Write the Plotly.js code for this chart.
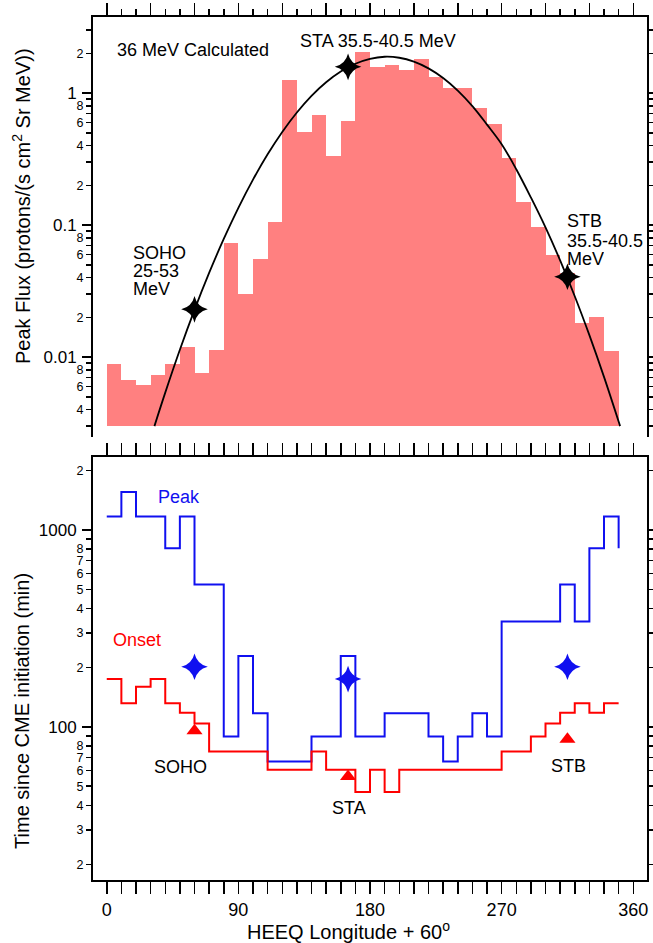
<!DOCTYPE html>
<html><head><meta charset="utf-8">
<script src="https://cdn.plot.ly/plotly-3.0.1.min.js"></script>
<style>html,body{margin:0;padding:0;background:#fff}#chart{width:653px;height:943px}</style>
</head><body><div id="chart"></div>
<script>
// ---- data ----
const binCenters = [5,15,25,35,45,55,65,75,85,95,105,115,125,135,145,155,165,175,185,195,205,215,225,235,245,255,265,275,285,295,305,315,325,335,345];
const peakFlux = [0.0089,0.0067,0.0061,0.0073,0.0088,0.0119,0.0076,0.0113,0.073,0.030,0.055,0.106,1.25,0.51,0.68,0.335,0.61,2.03,1.58,1.63,1.49,1.81,1.33,1.09,1.09,0.77,0.58,0.32,0.150,0.097,0.059,0.043,0.018,0.0202,0.0112];
const fluxBase = 0.003;
const curveLon = [32.6,40,50,60,70,80,90,100,110,120,130,140,150,160,170,180,190,200,210,220,230,240,250,260,270,280,290,300,310,320,330,340,350,351];
const curveFlux = [0.0030,0.00538,0.01136,0.0228,0.0434,0.0785,0.135,0.221,0.344,0.508,0.713,0.953,1.208,1.457,1.669,1.818,1.884,1.852,1.731,1.539,1.300,1.043,0.796,0.577,0.41,0.265,0.162,0.0961,0.054,0.0289,0.01466,0.00708,0.00325,0.0030];
const obsNames = ['SOHO','STA','STB'];
const obsLon = [60,165,315];
const obsFlux = [0.023,1.58,0.0406];
const stepLon = [0,10,20,30,40,50,60,70,80,90,100,110,120,130,140,150,160,170,180,190,200,210,220,230,240,250,260,270,280,290,300,310,320,330,340,350];
const peakTime = [1170,1560,1170,1170,807,1170,529,529,89.3,229,117.5,66.7,66.7,66.7,89.3,89.3,229,89.3,89.3,117.5,117.5,117.5,89.3,66.7,89.3,117.5,89.3,343,343,343,343,529,343,807,1170,807];
const onsetTime = [175,132,160,175,132,118,104,75,75,75,75,60.6,60.6,60.6,75,60.6,60.6,46.7,60.6,46.7,60.6,60.6,60.6,60.6,60.6,60.6,60.6,75,75,89.3,104,118,132,118,132,132];
const obsPeakTime = [202,175,202];
const obsOnsetTime = [95.7,56,86.7];
const lonTickVals = [0,30,60,90,120,150,180,210,240,270,300,330,360];
const lonTickText = ['0','','','90','','','180','','','270','','','360'];
const fluxMinorVals = [0.003,0.004,0.005,0.006,0.007,0.008,0.009,0.02,0.03,0.04,0.05,0.06,0.07,0.08,0.09,0.2,0.3,0.4,0.5,0.6,0.7,0.8,0.9,2,3];
const fluxMinorText = ['','4','','6','','8','','2','','4','','6','','8','','2','','4','','6','','8','','2',''];
const fluxDecadeVals = [0.01,0.1,1];
const fluxDecadeText = ['0.01','0.1','1'];
const timeMinorVals = [20,30,40,50,60,70,80,90,200,300,400,500,600,700,800,900,2000];
const timeMinorText = ['2','3','4','5','6','7','8','','2','3','4','5','6','7','8','','2'];
const timeDecadeVals = [100,1000];
const timeDecadeText = ['100','1000'];

// ---- styles ----
const FONT = 'Liberation Sans, Arial, Helvetica, sans-serif';
const BLUE = '#1010f0', RED = '#ff0000', PINK = '#ff8080';

const traces = [
  {type:'bar', x:binCenters, y:peakFlux.map(v => v - fluxBase), base:fluxBase, width:10,
   marker:{color:PINK, line:{width:0}}, xaxis:'x2', yaxis:'y2', hoverinfo:'skip'},
  {type:'scatter', mode:'lines', x:curveLon, y:curveFlux, line:{color:'#000', width:1.8, shape:'spline', smoothing:1},
   xaxis:'x2', yaxis:'y2'},
  {type:'scatter', mode:'markers', x:obsLon, y:obsFlux, text:obsNames,
   marker:{symbol:'star-diamond', size:19, color:'#000'}, xaxis:'x2', yaxis:'y2'},
  {type:'scatter', mode:'lines', x:stepLon, y:peakTime, line:{color:BLUE, width:2, shape:'hv'}, xaxis:'x', yaxis:'y'},
  {type:'scatter', mode:'lines', x:stepLon, y:onsetTime, line:{color:RED, width:2, shape:'hv'}, xaxis:'x', yaxis:'y'},
  {type:'scatter', mode:'markers', x:obsLon, y:obsPeakTime, marker:{symbol:'star-diamond', size:19, color:BLUE}, xaxis:'x', yaxis:'y'},
  {type:'scatter', mode:'markers', x:obsLon, y:obsOnsetTime, marker:{symbol:'triangle-up', size:14, color:RED}, xaxis:'x', yaxis:'y'},
  {type:'scatter', mode:'markers', x:[], y:[], xaxis:'x2', yaxis:'y3', hoverinfo:'skip'},
  {type:'scatter', mode:'markers', x:[], y:[], xaxis:'x', yaxis:'y4', hoverinfo:'skip'}
];

const XR = [-9.4, 369.4];
const TOPR = [-2.6055, 0.5763];
const BOTR = [1.2227, 3.371];
const common = {showgrid:false, zeroline:false, tickcolor:'#000', tickwidth:1.5, linecolor:'#000', linewidth:2};

const lineAnn = (xref, yref, x, y, text) => ({xref, yref, x, y, text, showarrow:false, xanchor:'left', yanchor:'middle', height:17, valign:'middle'});

const layout = {
  width:653, height:943, margin:{l:93, r:6, t:17, b:63},
  paper_bgcolor:'#fff', plot_bgcolor:'#fff', showlegend:false, bargap:0,
  font:{family:FONT, size:18, color:'#000'},
  xaxis: Object.assign({}, common, {domain:[0,1], anchor:'y', range:XR, tickmode:'array', tickvals:lonTickVals, ticktext:lonTickText,
    ticks:'outside', ticklen:12, showline:true, mirror:'allticks', tickfont:{size:18},
    minor:{tickmode:'linear', tick0:0, dtick:10, ticks:'outside', ticklen:7, tickwidth:1.5, tickcolor:'#000', showgrid:false}}),
  xaxis2: Object.assign({}, common, {domain:[0,1], anchor:'y2', side:'top', range:XR, tickmode:'array', tickvals:lonTickVals,
    showticklabels:false, ticks:'outside', ticklen:12, showline:true, mirror:false,
    minor:{tickmode:'linear', tick0:0, dtick:10, ticks:'outside', ticklen:6, tickwidth:1.5, tickcolor:'#000', showgrid:false}}),
  yaxis: Object.assign({}, common, {domain:[0,0.4902], anchor:'x', type:'log', range:BOTR, tickmode:'array', tickvals:timeMinorVals, ticktext:timeMinorText,
    ticks:'outside', ticklen:5, showline:true, mirror:'allticks', tickfont:{size:12.5}}),
  yaxis4: Object.assign({}, common, {overlaying:'y', anchor:'x', side:'left', type:'log', range:BOTR, tickmode:'array', tickvals:timeDecadeVals, ticktext:timeDecadeText,
    ticks:'outside', ticklen:10, showline:false, mirror:'ticks', tickfont:{size:17}, ticklabelstandoff:2}),
  yaxis2: Object.assign({}, common, {domain:[0.5133,1], anchor:'x2', type:'log', range:TOPR, tickmode:'array', tickvals:fluxMinorVals, ticktext:fluxMinorText,
    ticks:'outside', ticklen:5, showline:true, mirror:'allticks', tickfont:{size:12.5}}),
  yaxis3: Object.assign({}, common, {overlaying:'y2', anchor:'x2', side:'left', type:'log', range:TOPR, tickmode:'array', tickvals:fluxDecadeVals, ticktext:fluxDecadeText,
    ticks:'outside', ticklen:10, showline:false, mirror:'ticks', tickfont:{size:17}, ticklabelstandoff:2}),
  annotations: [
    {xref:'x2', yref:'y2', x:5.7, y:0.326, text:'36 MeV Calculated', showarrow:false, xanchor:'left', yanchor:'middle'},
    {xref:'x2', yref:'y2', x:130.8, y:0.394, text:'STA 35.5-40.5 MeV', showarrow:false, xanchor:'left', yanchor:'middle'},
    lineAnn('x2','y2', 16.6, -1.2045, 'SOHO'),
    lineAnn('x2','y2', 16.6, -1.341, '25-53'),
    lineAnn('x2','y2', 16.6, -1.477, 'MeV'),
    lineAnn('x2','y2', 313.3, -0.962, 'STB'),
    lineAnn('x2','y2', 313.3, -1.114, '35.5-40.5'),
    lineAnn('x2','y2', 313.3, -1.25, 'MeV'),
    {xref:'x', yref:'y', x:34, y:3.1675, text:'Peak', font:{color:BLUE}, showarrow:false, xanchor:'left', yanchor:'middle'},
    {xref:'x', yref:'y', x:3.0, y:2.4416, text:'Onset', font:{color:RED}, showarrow:false, xanchor:'left', yanchor:'middle'},
    {xref:'x', yref:'y', x:31.0, y:1.797, text:'SOHO', showarrow:false, xanchor:'left', yanchor:'middle'},
    {xref:'x', yref:'y', x:165.6, y:1.589, text:'STA', showarrow:false, xanchor:'center', yanchor:'middle'},
    {xref:'x', yref:'y', x:316, y:1.801, text:'STB', showarrow:false, xanchor:'center', yanchor:'middle'},
    {xref:'paper', yref:'paper', x:-0.128, y:0.781, text:'Peak Flux (protons/(s cm<sup>2</sup> Sr MeV))', textangle:-90, showarrow:false, xanchor:'center', yanchor:'middle', font:{size:20}},
    {xref:'paper', yref:'paper', x:-0.128, y:0.196, text:'Time since CME initiation (min)', textangle:-90, showarrow:false, xanchor:'center', yanchor:'middle', font:{size:20}},
    {xref:'paper', yref:'paper', x:0.462, y:-0.058, text:'HEEQ Longitude + 60<sup>o</sup>', showarrow:false, xanchor:'center', yanchor:'middle', font:{size:20}}
  ]
};

Plotly.newPlot('chart', traces, layout, {displayModeBar:false, staticPlot:true});
</script>
</body></html>
